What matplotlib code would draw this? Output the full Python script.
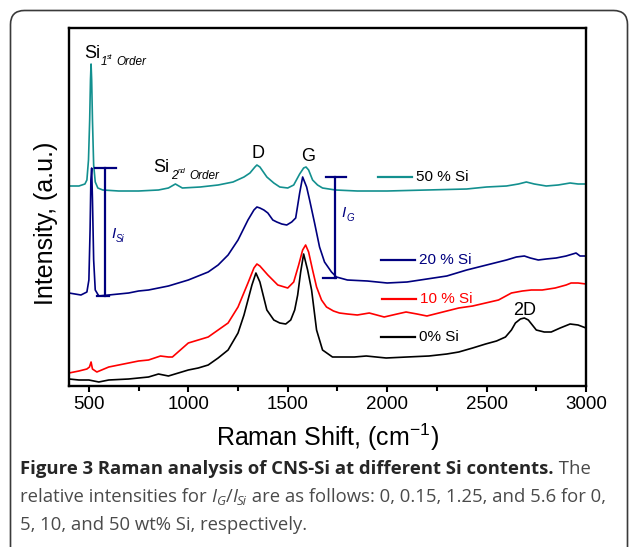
import matplotlib
matplotlib.use('Agg')
import matplotlib.pyplot as plt
from matplotlib.patches import FancyBboxPatch
from matplotlib.transforms import IdentityTransform
from matplotlib.ticker import AutoMinorLocator

plt.rcParams['font.family'] = ['Liberation Sans', 'DejaVu Sans']
plt.rcParams['mathtext.fontset'] = 'custom'
plt.rcParams['mathtext.rm'] = 'Liberation Sans'
plt.rcParams['mathtext.it'] = 'Liberation Sans:italic'

# Raman spectra (wavenumber in cm-1, intensity in a.u., curves already offset)
wn_50 = [400, 450, 480, 490, 498, 504, 508, 511, 514, 518, 524, 532, 545, 570, 650, 750, 850, 900,
         935, 970, 1060, 1150, 1225, 1280, 1310, 1335, 1345, 1360, 1395, 1430, 1460, 1500, 1530, 1560,
         1580, 1592, 1605, 1625, 1650, 1675, 1740, 1850, 2000, 2200, 2400, 2500, 2600, 2660, 2700,
         2740, 2800, 2860, 2920, 2960, 3000]
int_50 = [200, 200, 202, 206, 226, 266, 306, 322, 306, 266, 221, 204, 198, 196, 195, 195, 196, 198,
          202, 198, 199, 201, 204, 209, 213, 219, 221, 219, 209, 203, 199, 198, 201, 212,
          218, 219, 216, 206, 201, 198, 196, 195, 195, 196, 197, 199, 200, 202, 204,
          202, 200, 201, 203, 202, 202]

wn_20 = [400, 430, 460, 490, 500, 506, 510, 514, 518, 524, 532, 550, 600, 650, 700, 750, 800, 850,
         900, 950, 1000, 1050, 1100, 1150, 1200, 1250, 1300, 1330, 1345, 1360, 1380, 1400, 1425, 1445,
         1470, 1495, 1520, 1540, 1560, 1575, 1595, 1610, 1635, 1660, 1685, 1720, 1745, 1800, 1900,
         2000, 2100, 2200, 2300, 2400, 2500, 2600, 2650, 2690, 2720, 2760, 2800, 2850, 2900, 2950,
         2970, 3000]
int_20 = [93, 92, 91, 94, 106, 156, 206, 218, 186, 126, 96, 90, 91, 92, 93, 95, 96, 98,
          100, 103, 106, 110, 114, 121, 131, 146, 166, 176, 179, 178, 176, 173, 166, 164,
          162, 161, 164, 168, 193, 209, 199, 186, 163, 139, 124, 114, 109, 106, 105,
          103, 104, 107, 110, 116, 121, 126, 129, 130, 128, 126, 127, 128, 130, 133,
          130, 130]

wn_10 = [400, 450, 490, 503, 511, 518, 540, 600, 650, 700, 750, 800, 860, 900, 920, 960, 1000, 1050,
         1100, 1150, 1200, 1250, 1300, 1330, 1345, 1360, 1400, 1450, 1500, 1530, 1555, 1575, 1590,
         1605, 1625, 1645, 1670, 1695, 1730, 1760, 1800, 1850, 1910, 1985, 2050, 2095, 2150, 2200,
         2280, 2360, 2430, 2495, 2560, 2625, 2680, 2725, 2780, 2845, 2900, 2925, 2960, 3000]
int_10 = [13, 15, 17, 19, 24, 17, 14, 19, 21, 23, 25, 26, 30, 29, 29, 36, 43, 46,
          49, 56, 63, 79, 103, 118, 122, 120, 111, 101, 98, 104, 121, 136, 141,
          134, 116, 99, 86, 79, 75, 73, 72, 71, 73, 69, 72, 74, 72, 70,
          74, 78, 80, 83, 86, 93, 95, 96, 96, 98, 101, 103, 103, 102]

wn_0 = [400, 450, 500, 550, 600, 700, 800, 850, 900, 950, 1000, 1050, 1100, 1150, 1200, 1250, 1280,
        1300, 1320, 1340, 1360, 1395, 1430, 1460, 1490, 1515, 1535, 1550, 1565, 1580, 1600, 1620,
        1645, 1675, 1725, 1775, 1835, 1895, 1995, 2100, 2210, 2300, 2360, 2430, 2495, 2550, 2595,
        2625, 2645, 2670, 2690, 2710, 2730, 2750, 2790, 2825, 2870, 2920, 2960, 3000]
int_0 = [7, 6, 6, 4, 6, 7, 9, 12, 10, 13, 16, 18, 21, 28, 36, 53, 71,
         86, 101, 113, 104, 76, 66, 63, 62, 66, 76, 91, 114, 132, 116, 96,
         56, 36, 29, 29, 29, 30, 28, 29, 30, 32, 34, 38, 42, 45, 49,
         56, 63, 67, 68, 66, 61, 56, 54, 54, 58, 62, 61, 58]

labels = ['50 % Si', '20 % Si', '10 % Si', '0% Si']
colors = ['#13908f', '#00007f', '#ff0000', '#000000']
xticks = [500, 1000, 1500, 2000, 2500, 3000]

W, H = 629, 547
fig = plt.figure(figsize=(W / 100, H / 100), dpi=100)
ax = fig.add_axes([69 / W, 1 - 386 / H, (586 - 69) / W, (386 - 28) / H])

ax.plot(wn_50, int_50, color=colors[0], lw=1.2)
ax.plot(wn_20, int_20, color=colors[1], lw=1.2)
ax.plot(wn_10, int_10, color=colors[2], lw=1.2)
ax.plot(wn_0, int_0, color=colors[3], lw=1.2)

ax.set_xlim(400, 3000)
ax.set_ylim(0, 358)
ax.set_xticks(xticks)
ax.xaxis.set_minor_locator(AutoMinorLocator(2))
ax.set_yticks([])
ax.tick_params(axis='x', which='major', direction='out', length=4, width=1.5,
               labelsize=13.5, pad=3.5)
ax.tick_params(axis='x', which='minor', direction='out', length=3.5, width=1.5)
for s in ax.spines.values():
    s.set_linewidth(1.7)

# legend-like labels next to the curves
leg_y = [209, 126, 87, 49]
leg_x0 = [1955, 1970, 1975, 1970]
txt_col = ['black', colors[1], colors[2], 'black']
for lab, c, tc, y, x0 in zip(labels, colors, txt_col, leg_y, leg_x0):
    ax.plot([x0, x0 + 172], [y, y], color=c, lw=1.6)
    ax.text(x0 + 190, y, lab, color=tc, fontsize=11, va='center', ha='left')

# peak labels
ax.text(475, 328, 'Si', fontsize=13)
ax.text(560, 321, '1', fontsize=8.5, style='italic')
ax.text(590, 327, 'st', fontsize=5, style='italic')
ax.text(640, 321, 'Order', fontsize=8.5, style='italic')
ax.text(825, 214, 'Si', fontsize=13)
ax.text(912, 207, '2', fontsize=8.5, style='italic')
ax.text(946, 213, 'nd', fontsize=5, style='italic')
ax.text(1007, 207, 'Order', fontsize=8.5, style='italic')
ax.text(1350, 228, 'D', fontsize=13, ha='center')
ax.text(1605, 225, 'G', fontsize=13, ha='center')
ax.text(2690, 71, '2D', fontsize=13, ha='center')

# intensity brackets
nav = colors[1]
ax.plot([580, 580], [90, 218], color=nav, lw=1.6)
ax.plot([530, 635], [218, 218], color=nav, lw=1.6)
ax.plot([540, 600], [90, 90], color=nav, lw=1.6)
ax.text(612, 148, 'I', color=nav, fontsize=11, style='italic')
ax.text(634, 144, 'Si', color=nav, fontsize=7, style='italic')
ax.plot([1740, 1740], [108, 209], color=nav, lw=1.6)
ax.plot([1690, 1795], [209, 209], color=nav, lw=1.6)
ax.plot([1675, 1745], [108, 108], color=nav, lw=1.6)
ax.text(1772, 169, 'I', color=nav, fontsize=11, style='italic')
ax.text(1794, 165, 'G', color=nav, fontsize=7, style='italic')

fig.text(327 / W, 1 - 446 / H, 'Raman Shift, (cm$^{-1}$)', fontsize=18,
         ha='center', va='baseline')
fig.text(46 / W, 1 - 223 / H, 'Intensity, (a.u.)', fontsize=18, rotation=90,
         ha='center', va='center')

# rounded frame around figure + caption
fig.add_artist(FancyBboxPatch((10.5, -40), 617, 576.5, boxstyle='round,pad=0,rounding_size=14',
                              transform=IdentityTransform(), fill=False,
                              edgecolor='#3a3a3a', lw=1.2))

# caption
cap_font, cap_size = 'Open Sans', 13.3
renderer = fig.canvas.get_renderer()


def caption_line(parts, x_px, base_px):
    x = x_px
    for s, weight, style, small in parts:
        size = cap_size * (0.72 if small else 1.0)
        y = base_px + (3 if small else 0)
        col = '#262626' if weight == 'bold' else '#4a4a4a'
        t = fig.text(x / W, 1 - y / H, s, fontsize=size, family=cap_font,
                     weight=weight, style=style, color=col, ha='left', va='baseline')
        x = t.get_window_extent(renderer=renderer).x1


caption_line([('Figure 3 Raman analysis of CNS-Si at different Si contents.', 'bold', 'normal', False),
              (' The', 'normal', 'normal', False)], 20, 474)
caption_line([('relative intensities for ', 'normal', 'normal', False),
              ('I', 'normal', 'italic', False), ('G', 'normal', 'italic', True),
              ('/', 'normal', 'normal', False),
              ('I', 'normal', 'italic', False), ('Si', 'normal', 'italic', True),
              (' are as follows: 0, 0.15, 1.25, and 5.6 for 0,', 'normal', 'normal', False)], 20, 502)
caption_line([('5, 10, and 50 wt% Si, respectively.', 'normal', 'normal', False)], 20, 530)

fig.savefig('out.png', dpi=100)
